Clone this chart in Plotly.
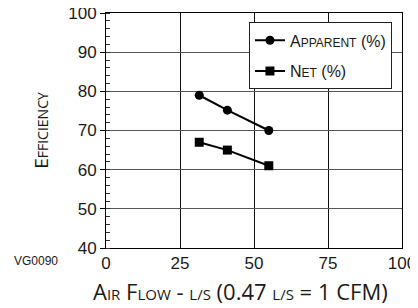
import plotly.graph_objects as go

airflow = [31.5, 41, 55]
apparent = [79, 75.2, 70]
net = [67, 65, 61]
x_ticks = [0, 25, 50, 75, 100]
y_ticks = [40, 50, 60, 70, 80, 90, 100]

fig = go.Figure()
fig.add_trace(go.Scatter(
    x=airflow, y=apparent, mode="lines+markers", legendgroup="a",
    name="A<span style='font-size:12px'>PPARENT</span> (%)",
    line=dict(color="black", width=2),
    marker=dict(symbol="circle", size=9, color="black"),
))
fig.add_trace(go.Scatter(
    x=airflow, y=net, mode="lines+markers", legendgroup="n",
    name="N<span style='font-size:12px'>ET</span> (%)",
    line=dict(color="black", width=2),
    marker=dict(symbol="square", size=9, color="black"),
))

xtitle = ("A<span style='font-size:15px'>IR</span> F<span style='font-size:15px'>LOW</span> - "
          "<span style='font-size:15px'>L/S</span> (0.47 <span style='font-size:15px'>L/S</span> = 1 CFM)")
ytitle = "E<span style='font-size:14px'>FFICIENCY</span>"

# page body has an 8px default margin, so the figure is 410x300
fig.update_layout(
    width=410, height=300,
    margin=dict(l=98, r=16, t=5, b=60),
    paper_bgcolor="white", plot_bgcolor="white",
    font=dict(family="Liberation Sans, Arial, sans-serif", color="#1a1a1a"),
    showlegend=True,
    legend=dict(
        x=0.483, y=0.96, xanchor="left", yanchor="top",
        bordercolor="#222", borderwidth=1, bgcolor="white",
        font=dict(size=16, family="Liberation Sans, Arial, sans-serif"),
        traceorder="grouped", tracegroupgap=7, itemwidth=30,
    ),
    xaxis=dict(
        range=[0, 100], tickvals=x_ticks, ticktext=[str(v) for v in x_ticks],
        showgrid=True, gridcolor="#111", gridwidth=1,
        showline=True, linecolor="black", linewidth=1, mirror=True,
        ticks="", tickfont=dict(size=17), zeroline=False, automargin=False,
        ticklabeloverflow="allow",
    ),
    yaxis=dict(
        range=[40, 100], tickvals=y_ticks, ticktext=[str(v) for v in y_ticks],
        showgrid=True, gridcolor="#555", gridwidth=1,
        showline=True, linecolor="black", linewidth=1, mirror=True,
        ticks="outside", ticklen=5, tickcolor="black", tickfont=dict(size=17),
        zeroline=False, automargin=False, ticklabeloverflow="allow",
        minor=dict(dtick=2, ticks="inside", ticklen=4, tickcolor="#333", showgrid=False),
        title=dict(text=ytitle, font=dict(size=19, family="Open Sans, Noto Sans, sans-serif"), standoff=14),
    ),
)

fig.add_annotation(
    text=xtitle, xref="paper", yref="paper", x=0.453, y=-0.185,
    xanchor="center", yanchor="middle", showarrow=False,
    font=dict(size=22, family="Open Sans, Noto Sans, sans-serif", color="#1a1a1a"),
)
fig.add_annotation(
    text="VG0090", xref="paper", yref="paper", x=-0.236, y=-0.055,
    xanchor="center", yanchor="middle", showarrow=False,
    font=dict(size=12, family="Liberation Sans, Arial, sans-serif", color="#1a1a1a"),
)

fig.write_html("out.html")
